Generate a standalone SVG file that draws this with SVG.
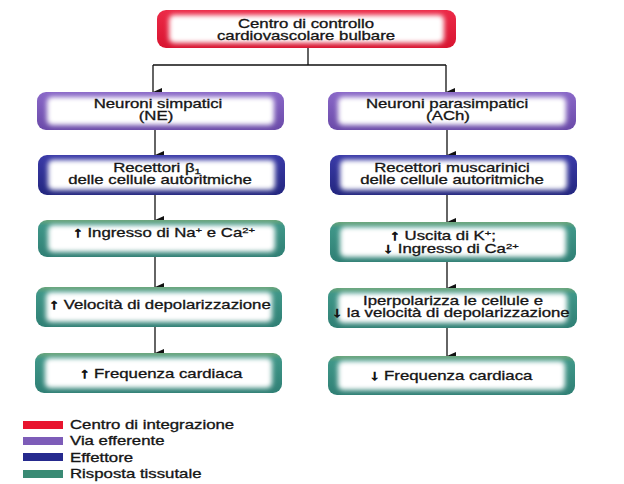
<svg xmlns="http://www.w3.org/2000/svg" width="624" height="484" viewBox="0 0 624 484">
<defs>
<filter id="soft" x="-20%" y="-50%" width="140%" height="200%"><feGaussianBlur stdDeviation="2.5"/></filter>
<linearGradient id="gRed" x1="0" y1="0" x2="0" y2="1"><stop offset="0" stop-color="#ec2a48"/><stop offset="1" stop-color="#d81430"/></linearGradient>
<linearGradient id="gPur" x1="0" y1="0" x2="0" y2="1"><stop offset="0" stop-color="#8a68c8"/><stop offset="1" stop-color="#6a4aa8"/></linearGradient>
<linearGradient id="gBlu" x1="0" y1="0" x2="0" y2="1"><stop offset="0" stop-color="#3a3aa8"/><stop offset="1" stop-color="#23267f"/></linearGradient>
<linearGradient id="gGrn" x1="0" y1="0" x2="0" y2="1"><stop offset="0" stop-color="#6aa57a"/><stop offset="0.15" stop-color="#3f9688"/><stop offset="1" stop-color="#2f7f74"/></linearGradient>
<marker id="ah" markerWidth="8" markerHeight="9" refX="4" refY="9" orient="auto-start-reverse" markerUnits="userSpaceOnUse" viewBox="0 0 8 9"><path d="M0,0 L8,0 L4,9 Z" fill="#111"/></marker>
</defs>
<style>
.t{font-family:"Liberation Sans",Arial,sans-serif;font-size:12px;fill:#151515;stroke:#151515;stroke-width:0.3;text-anchor:middle}
.l{font-family:"Liberation Sans",Arial,sans-serif;font-size:12px;fill:#151515;stroke:#151515;stroke-width:0.3}
.sup{font-size:8px}
.ar{font-weight:bold;font-size:14px;stroke-width:0.8}
.in{fill:#fff;filter:url(#soft)}
.c{stroke:#111;stroke-width:1.3;fill:none}
</style>
<rect width="624" height="484" fill="#fff"/>

<g id="connectors">
<path class="c" d="M308,48 V65 M153,65 H446"/>
<path class="c" d="M153,65 V92" marker-end="url(#ah)"/>
<path class="c" d="M446,65 V92" marker-end="url(#ah)"/>
<path class="c" d="M155,130 V155" marker-end="url(#ah)"/>
<path class="c" d="M155,195 V220" marker-end="url(#ah)"/>
<path class="c" d="M155,257 V287" marker-end="url(#ah)"/>
<path class="c" d="M155,327 V353" marker-end="url(#ah)"/>
<path class="c" d="M447,130 V155" marker-end="url(#ah)"/>
<path class="c" d="M447,195 V222" marker-end="url(#ah)"/>
<path class="c" d="M447,262 V288" marker-end="url(#ah)"/>
<path class="c" d="M447,328 V356" marker-end="url(#ah)"/>
</g>

<g id="centro">
<rect x="157" y="10" width="299" height="38" rx="9" fill="url(#gRed)"/>
<rect class="in" x="169" y="15" width="275" height="28" rx="5"/>
<text class="t" transform="matrix(1.4 0 0 1 306 28)">Centro di controllo</text>
<text class="t" transform="matrix(1.4 0 0 1 306 40)">cardiovascolare bulbare</text>
</g>

<g id="simpatici">
<rect x="37" y="92" width="247" height="38" rx="9" fill="url(#gPur)"/>
<rect class="in" x="47" y="97" width="227" height="28" rx="5"/>
<text class="t" transform="matrix(1.4 0 0 1 158 108)">Neuroni simpatici</text>
<text class="t" transform="matrix(1.4 0 0 1 156 120)">(NE)</text>
</g>

<g id="parasimpatici">
<rect x="328" y="92" width="248" height="38" rx="9" fill="url(#gPur)"/>
<rect class="in" x="338" y="97" width="228" height="28" rx="5"/>
<text class="t" transform="matrix(1.4 0 0 1 447 108)">Neuroni parasimpatici</text>
<text class="t" transform="matrix(1.4 0 0 1 448 120)">(ACh)</text>
</g>

<g id="recettori-beta">
<rect x="38" y="155" width="247" height="40" rx="9" fill="url(#gBlu)"/>
<rect class="in" x="48" y="160" width="227" height="30" rx="5"/>
<text class="t" transform="matrix(1.4 0 0 1 157 172)">Recettori β<tspan class="sup" dy="2">1</tspan></text>
<text class="t" transform="matrix(1.4 0 0 1 160 184)">delle cellule autoritmiche</text>
</g>

<g id="recettori-muscarinici">
<rect x="330" y="155" width="247" height="40" rx="9" fill="url(#gBlu)"/>
<rect class="in" x="340" y="160" width="227" height="30" rx="5"/>
<text class="t" transform="matrix(1.4 0 0 1 452 172)">Recettori muscarinici</text>
<text class="t" transform="matrix(1.4 0 0 1 452 184)">delle cellule autoritmiche</text>
</g>

<g id="ingresso-na-ca">
<rect x="38" y="220" width="247" height="37" rx="9" fill="url(#gGrn)"/>
<rect class="in" x="48" y="225" width="227" height="27" rx="5"/>
<text class="t" transform="matrix(1.4 0 0 1 164 237)"><tspan class="ar">↑</tspan> Ingresso di Na<tspan class="sup" dy="-4">+</tspan><tspan dy="4"> e Ca</tspan><tspan class="sup" dy="-4">2+</tspan></text>
</g>

<g id="uscita-k">
<rect x="330" y="222" width="246" height="40" rx="9" fill="url(#gGrn)"/>
<rect class="in" x="340" y="227" width="226" height="30" rx="5"/>
<text class="t" transform="matrix(1.4 0 0 1 443 240)"><tspan class="ar">↑</tspan> Uscita di K<tspan class="sup" dy="-4">+</tspan><tspan dy="4">;</tspan></text>
<text class="t" transform="matrix(1.4 0 0 1 451 253)"><tspan class="ar">↓</tspan> Ingresso di Ca<tspan class="sup" dy="-4">2+</tspan></text>
</g>

<g id="velocita-up">
<rect x="36" y="287" width="246" height="40" rx="9" fill="url(#gGrn)"/>
<rect class="in" x="46" y="292" width="226" height="30" rx="5"/>
<text class="t" transform="matrix(1.4 0 0 1 160 309)"><tspan class="ar">↑</tspan> Velocità di depolarizzazione</text>
</g>

<g id="iperpolarizza">
<rect x="328" y="288" width="249" height="40" rx="9" fill="url(#gGrn)"/>
<rect class="in" x="338" y="293" width="229" height="30" rx="5"/>
<text class="t" transform="matrix(1.4 0 0 1 453 305)">Iperpolarizza le cellule e</text>
<text class="t" transform="matrix(1.4 0 0 1 451 317)"><tspan class="ar">↓</tspan> la velocità di depolarizzazione</text>
</g>

<g id="frequenza-up">
<rect x="35" y="353" width="247" height="40" rx="9" fill="url(#gGrn)"/>
<rect class="in" x="45" y="358" width="227" height="30" rx="5"/>
<text class="t" transform="matrix(1.4 0 0 1 161 378)"><tspan class="ar">↑</tspan> Frequenza cardiaca</text>
</g>

<g id="frequenza-down">
<rect x="328" y="356" width="247" height="39" rx="9" fill="url(#gGrn)"/>
<rect class="in" x="338" y="361" width="227" height="29" rx="5"/>
<text class="t" transform="matrix(1.4 0 0 1 451 380)"><tspan class="ar">↓</tspan> Frequenza cardiaca</text>
</g>

<g id="legend">
<rect x="23" y="421" width="40" height="8" fill="#e8142e"/>
<rect x="23" y="437" width="40" height="8" fill="#7d5cb8"/>
<rect x="23" y="453" width="40" height="8" fill="#262a8e"/>
<rect x="23" y="470" width="40" height="8" fill="#3a8a74"/>
<text class="l" transform="matrix(1.4 0 0 1 70 429)">Centro di integrazione</text>
<text class="l" transform="matrix(1.4 0 0 1 70 445)">Via efferente</text>
<text class="l" transform="matrix(1.4 0 0 1 70 462)">Effettore</text>
<text class="l" transform="matrix(1.4 0 0 1 70 478)">Risposta tissutale</text>
</g>
</svg>
